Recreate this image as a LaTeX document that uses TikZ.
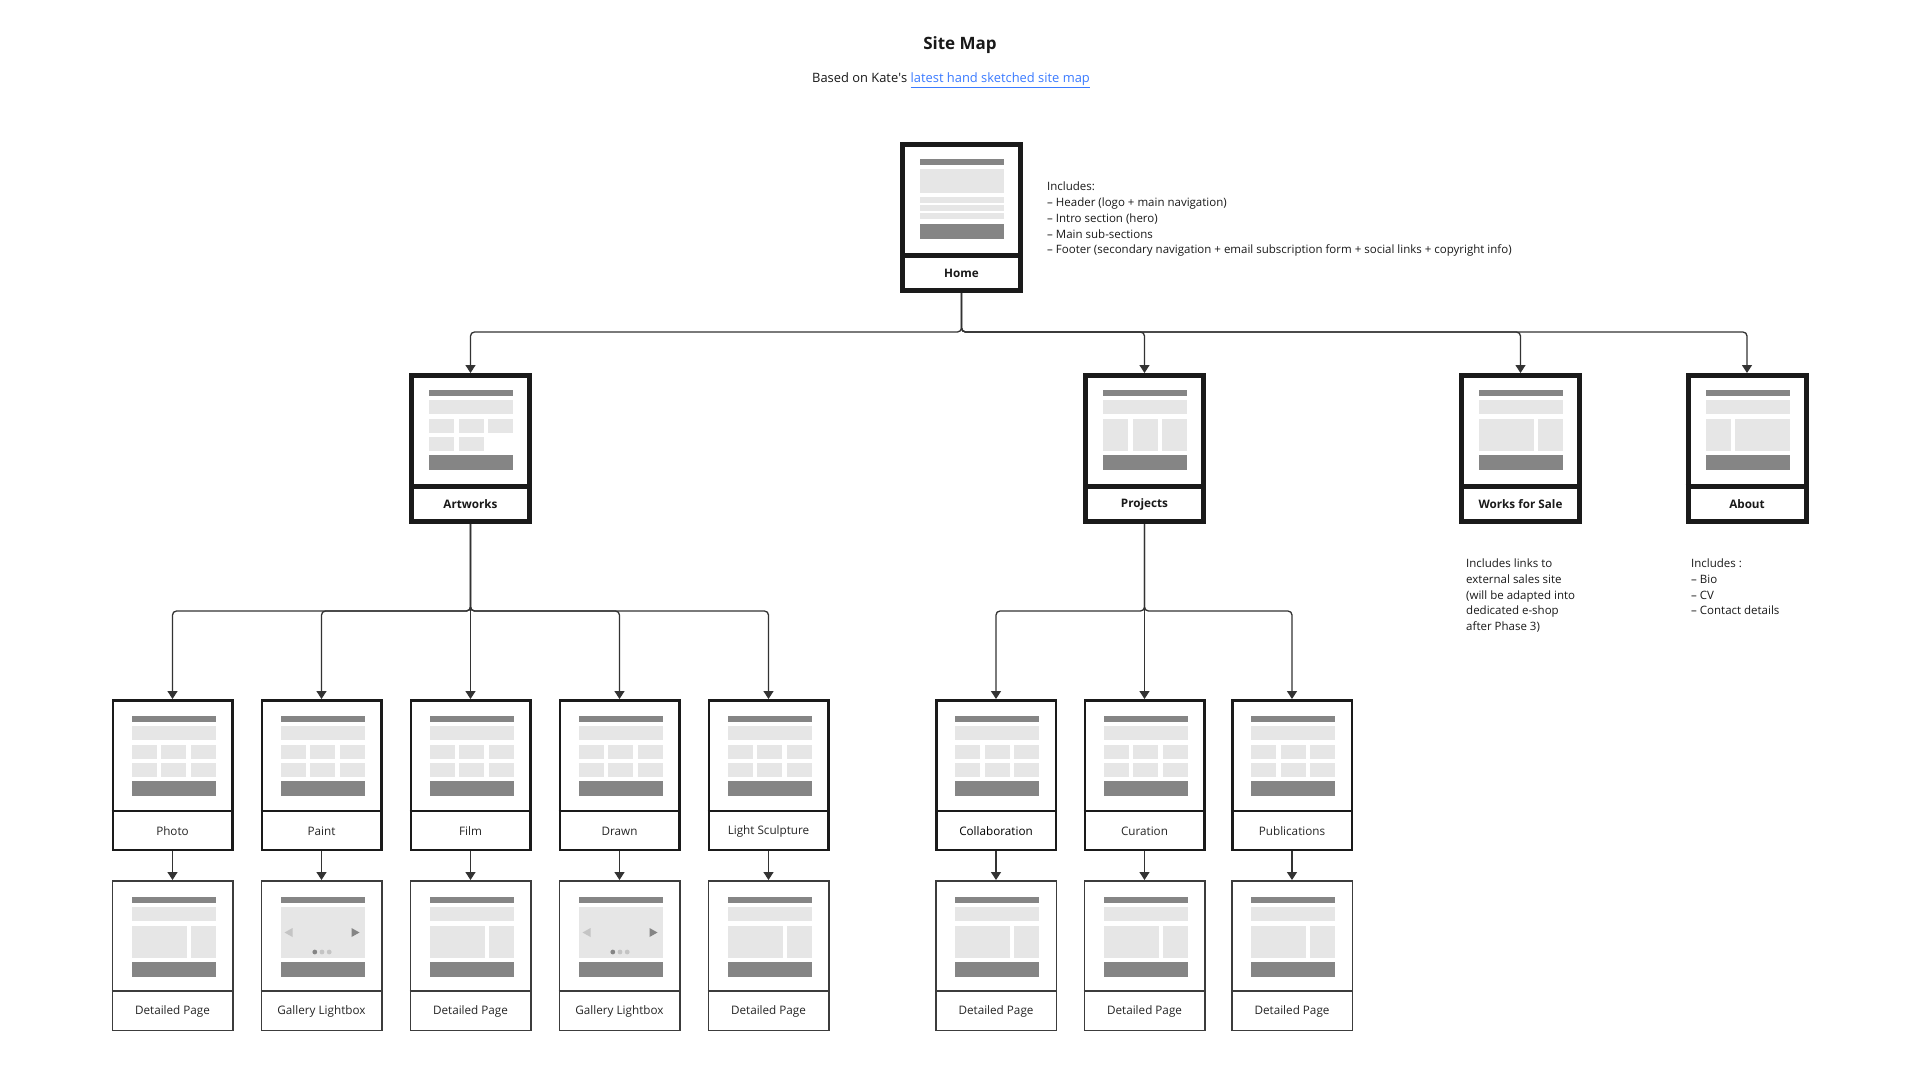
\documentclass[tikz,border=0pt]{standalone}
\usepackage{fontspec}
\setmainfont{Open Sans}
\usetikzlibrary{arrows.meta}
\definecolor{dk}{HTML}{858585}
\definecolor{lt}{HTML}{E6E6E6}
\definecolor{gl}{HTML}{C4C4C4}
\definecolor{ln}{HTML}{333333}
\definecolor{frame}{HTML}{1A1A1A}
\definecolor{linkblue}{HTML}{3B7BFF}
\tikzset{
 pagetop/.style={draw=frame, line width=5pt, minimum width=118pt, minimum height=146pt, inner sep=0pt, fill=white},
 pagemid/.style={draw=frame, line width=2.5pt, minimum width=119.5pt, minimum height=149.5pt, inner sep=0pt, fill=white},
 pagelow/.style={draw=frame!85, line width=1.5pt, minimum width=120.5pt, minimum height=149.5pt, inner sep=0pt, fill=white},
 conn/.style={draw=ln, line width=1.3pt, rounded corners=4pt, -{Triangle[width=10pt,length=8pt]}},
 lbl/.style={font=\fontsize{11.7}{13}\selectfont, text=black!85},
 lblb/.style={font=\fontsize{11.7}{13}\selectfont\bfseries, text=black!90},
 note/.style={font=\fontsize{11.5}{15.8}\selectfont, align=left, anchor=north west, inner sep=0pt, text=black!90},
}
% decorations of page frames
\newcommand\topframe[2]{\begin{scope}[shift={(#1.north west)}]
 \draw[frame, line width=5pt] (0,113) -- (123,113);
 \node[lblb] (#1-label) at (61.5,131) {#2};
\end{scope}}
\newcommand\midframe[2]{\begin{scope}[shift={(#1.north west)}]
 \draw[frame, line width=2.5pt] (0,112) -- (122,112);
 \node[lbl] (#1-label) at (61,132) {#2};
\end{scope}}
\newcommand\lowframe[2]{\begin{scope}[shift={(#1.north west)}]
 \draw[frame!85, line width=1.5pt] (0,111) -- (122,111);
 \node[lbl] (#1-label) at (61,131) {#2};
\end{scope}}
% mockups
\newcommand\hdft{\fill[dk] (20,17) rectangle (104,23); \fill[dk] (20,82) rectangle (104,97);}
\newcommand\mkhome[1]{\begin{scope}[shift={(#1.north west)}]
 \hdft
 \fill[lt] (20,26.5) rectangle (104,51);
 \fill[lt] (20,55) rectangle (104,61);
 \fill[lt] (20,63) rectangle (104,69);
 \fill[lt] (20,71) rectangle (104,77);
\end{scope}}
\newcommand\mkgridfive[1]{\begin{scope}[shift={(#1.north west)}]
 \hdft \fill[lt] (20,27) rectangle (104,41);
 \fill[lt] (20,46) rectangle (45,60); \fill[lt] (49.5,46) rectangle (74.5,60); \fill[lt] (79,46) rectangle (104,60);
 \fill[lt] (20,64) rectangle (45,78); \fill[lt] (49.5,64) rectangle (74.5,78);
\end{scope}}
\newcommand\mkgridsix[1]{\begin{scope}[shift={(#1.north west)}]
 \hdft \fill[lt] (20,27) rectangle (104,41);
 \fill[lt] (20,46) rectangle (45,60); \fill[lt] (49.5,46) rectangle (74.5,60); \fill[lt] (79,46) rectangle (104,60);
 \fill[lt] (20,64) rectangle (45,78); \fill[lt] (49.5,64) rectangle (74.5,78); \fill[lt] (79,64) rectangle (104,78);
\end{scope}}
\newcommand\mkcols[1]{\begin{scope}[shift={(#1.north west)}]
 \hdft \fill[lt] (20,27) rectangle (104,41);
 \fill[lt] (20,46) rectangle (45,78); \fill[lt] (49.5,46) rectangle (74.5,78); \fill[lt] (79,46) rectangle (104,78);
\end{scope}}
\newcommand\mksplit[1]{\begin{scope}[shift={(#1.north west)}]
 \hdft \fill[lt] (20,27) rectangle (104,41);
 \fill[lt] (20,45.5) rectangle (75,78); \fill[lt] (79,45.5) rectangle (104,78);
\end{scope}}
\newcommand\mksplitrev[1]{\begin{scope}[shift={(#1.north west)}]
 \hdft \fill[lt] (20,27) rectangle (104,41);
 \fill[lt] (20,45.5) rectangle (45,78); \fill[lt] (49,45.5) rectangle (104,78);
\end{scope}}
\newcommand\mkgal[1]{\begin{scope}[shift={(#1.north west)}]
 \hdft \fill[lt] (20,27) rectangle (104,78);
 \fill[gl] (24,52.5) -- (32,48) -- (32,57) -- cycle;
 \fill[dk] (99,52.5) -- (91,48) -- (91,57) -- cycle;
 \fill[dk] (54.3,72) circle (2.4pt);
 \fill[gl] (61.5,72) circle (2.4pt);
 \fill[gl] (68.7,72) circle (2.4pt);
\end{scope}}

\begin{document}
\begin{tikzpicture}[x=1pt,y=-1pt]
\useasboundingbox[fill=white] (0,0) rectangle (1920,1080);

% title
\node[font=\fontsize{17}{20}\selectfont\bfseries, text=black!90] (title) at (960,45) {Site Map};
\node[font=\fontsize{12.9}{15}\selectfont, text=black!90] (subtitle) at (951,80.5) {Based on Kate\textquotesingle s \textcolor{linkblue}{\underline{latest hand sketched site map}}};

% level 1 and 2
\node[pagetop] (home) at (961.5,217.5) {};
\node[pagetop] (art) at (470.5,448.5) {};
\node[pagetop] (proj) at (1144.5,448.5) {};
\node[pagetop] (wfs) at (1520.5,448.5) {};
\node[pagetop] (about) at (1747,448.5) {};
\mkhome{home}\topframe{home}{Home}
\mkgridfive{art}\topframe{art}{Artworks}
\mkcols{proj}\topframe{proj}{Projects}
\mksplit{wfs}\topframe{wfs}{Works for Sale}
\mksplitrev{about}\topframe{about}{About}

% level 3
\node[pagemid] (photo) at (172.5,775) {};
\node[pagemid] (paint) at (321.5,775) {};
\node[pagemid] (film) at (470.5,775) {};
\node[pagemid] (drawn) at (619.5,775) {};
\node[pagemid] (light) at (768.5,775) {};
\node[pagemid] (collab) at (996,775) {};
\node[pagemid] (cur) at (1144.5,775) {};
\node[pagemid] (pub) at (1292,775) {};
\foreach \n/\t in {photo/Photo, paint/Paint, film/Film, drawn/Drawn, light/Light Sculpture, collab/{\color{black}Collaboration}, cur/Curation, pub/Publications}{
 \mkgridsix{\n}\midframe{\n}{\t}
}

% level 4
\node[pagelow] (dphoto) at (172.5,955.5) {};
\node[pagelow] (gpaint) at (321.5,955.5) {};
\node[pagelow] (dfilm) at (470.5,955.5) {};
\node[pagelow] (gdrawn) at (619.5,955.5) {};
\node[pagelow] (dlight) at (768.5,955.5) {};
\node[pagelow] (dcollab) at (996,955.5) {};
\node[pagelow] (dcur) at (1144.5,955.5) {};
\node[pagelow] (dpub) at (1292,955.5) {};
\foreach \n in {dphoto, dfilm, dlight, dcollab, dcur, dpub}{
 \mksplit{\n}\lowframe{\n}{Detailed Page}
}
\foreach \n in {gpaint, gdrawn}{
 \mkgal{\n}\lowframe{\n}{Gallery Lightbox}
}

% connectors
\foreach \c in {art, proj, wfs, about}{
 \draw[conn] (home.south) -- ++(0,39) -| (\c.north);
}
\foreach \c in {photo, paint, film, drawn, light}{
 \draw[conn] (art.south) -- ++(0,87) -| (\c.north);
}
\foreach \c in {collab, cur, pub}{
 \draw[conn] (proj.south) -- ++(0,87) -| (\c.north);
}
\foreach \a/\b in {photo/dphoto, paint/gpaint, film/dfilm, drawn/gdrawn, light/dlight, collab/dcollab, cur/dcur, pub/dpub}{
 \draw[conn] (\a.south) -- (\b.north);
}

% notes
\node[note] (homenote) at (1047,181.8) {Includes:\\– Header (logo + main navigation)\\– Intro section (hero)\\– Main sub-sections\\– Footer (secondary navigation + email subscription form + social links + copyright info)};
\node[note] (wfsnote) at (1466,558.5) {Includes links to\\external sales site\\(will be adapted into\\dedicated e-shop\\after Phase 3)};
\node[note] (aboutnote) at (1691,558.5) {Includes :\\– Bio\\– CV\\– Contact details};
\end{tikzpicture}
\end{document}
